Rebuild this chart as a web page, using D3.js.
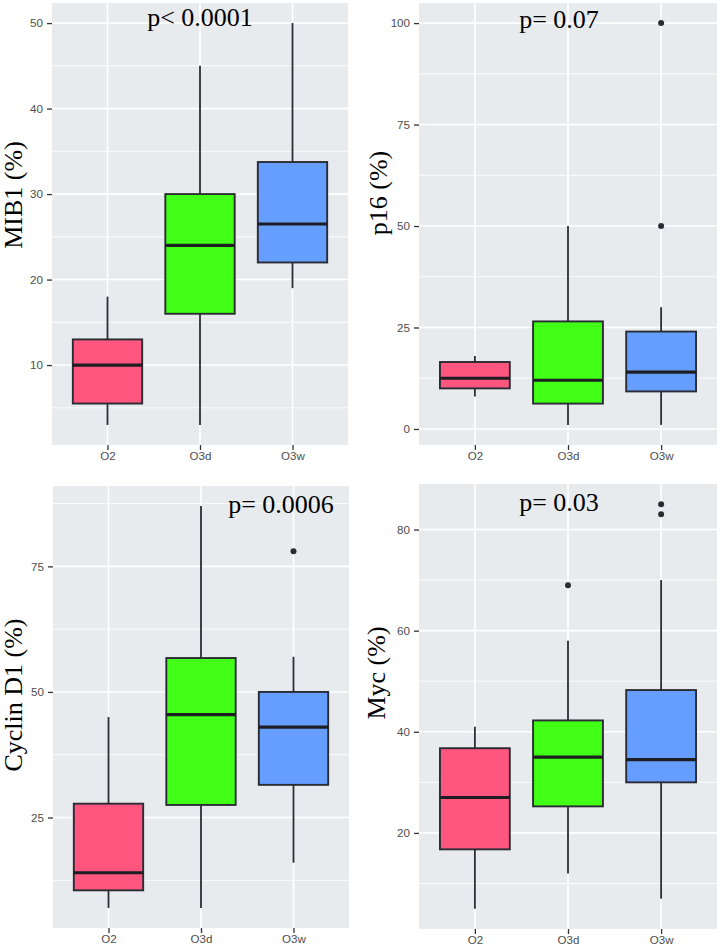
<!DOCTYPE html>
<html><head><meta charset="utf-8">
<script src="https://cdn.jsdelivr.net/npm/d3@7"></script>
<style>body{margin:0;background:#fff}svg{display:block}</style>
</head><body><svg id="c" width="720" height="949"></svg>
<script>
const categories = ["O2", "O3d", "O3w"];
// each row: [lower whisker, Q1, median, Q3, upper whisker]
const mib1Stats = [[3, 5.5, 10, 13, 18], [3, 16, 24, 30, 45], [19, 22, 26.5, 33.75, 50]];
const mib1Outliers = [[], [], []];
const p16Stats = [[8, 10, 12.5, 16.5, 18], [1, 6.25, 12, 26.5, 50], [1, 9.25, 14, 24, 30]];
const p16Outliers = [[], [], [50, 100]];
const cyclinStats = [[7, 10.5, 14, 27.75, 45], [7, 27.5, 45.5, 56.75, 87], [16, 31.5, 43, 50, 57]];
const cyclinOutliers = [[], [], [78]];
const mycStats = [[5, 16.75, 27, 36.75, 41], [12, 25.25, 35, 42.25, 58], [7, 30, 34.5, 48.25, 70]];
const mycOutliers = [[], [69], [83, 85]];
const mib1Ticks = [10, 20, 30, 40, 50];
const p16Ticks = [0, 25, 50, 75, 100];
const cyclinTicks = [25, 50, 75];
const mycTicks = [20, 40, 60, 80];
const yTitles = ["MIB1 (%)", "p16 (%)", "Cyclin D1 (%)", "Myc (%)"];
const pLabels = ["p< 0.0001", "p= 0.07", "p= 0.0006", "p= 0.03"];

const fills = ["#FF567F", "#41FF17", "#659EFF"];
const outline = "#2A2C33";
const bg = "#E8EBEE";

const panels = [
  {stats: mib1Stats, out: mib1Outliers, ticks: mib1Ticks, title: yTitles[0], p: pLabels[0],
   l: 52, r: 348, t: 3, b: 445, tx: 22, ty: 195, px: 200, py: 26},
  {stats: p16Stats, out: p16Outliers, ticks: p16Ticks, title: yTitles[1], p: pLabels[1],
   l: 419, r: 717, t: 3, b: 445, tx: 387, ty: 193, px: 559, py: 28},
  {stats: cyclinStats, out: cyclinOutliers, ticks: cyclinTicks, title: yTitles[2], p: pLabels[2],
   l: 53, r: 349, t: 486, b: 928, tx: 22, ty: 695, px: 281, py: 513},
  {stats: mycStats, out: mycOutliers, ticks: mycTicks, title: yTitles[3], p: pLabels[3],
   l: 419, r: 717, t: 484, b: 929, tx: 385, ty: 673, px: 559, py: 511}
];

const svg = d3.select("#c");

panels.forEach(P => {
  const g = svg.append("g");
  const allVals = P.stats.flat().concat(P.out.flat());
  const lo = d3.min(allVals), hi = d3.max(allVals), pad = (hi - lo) * 0.05;
  const y = d3.scaleLinear().domain([lo - pad, hi + pad]).range([P.b, P.t]);
  const x = d3.scalePoint().domain(categories).range([P.l, P.r]).padding(0.6);
  const bw = x.step() * 0.75;

  g.append("rect").attr("x", P.l).attr("y", P.t).attr("width", P.r - P.l).attr("height", P.b - P.t).attr("fill", bg);

  // minor gridlines
  const step = P.ticks[1] - P.ticks[0];
  const minor = [];
  for (let v = P.ticks[0] - step / 2; v <= y.domain()[1]; v += step) if (v >= y.domain()[0]) minor.push(v);
  g.selectAll(".mn").data(minor).join("line")
    .attr("x1", P.l).attr("x2", P.r).attr("y1", d => y(d)).attr("y2", d => y(d))
    .attr("stroke", "#fff").attr("stroke-width", 0.8);
  g.selectAll(".mjy").data(P.ticks).join("line")
    .attr("x1", P.l).attr("x2", P.r).attr("y1", d => y(d)).attr("y2", d => y(d))
    .attr("stroke", "#fff").attr("stroke-width", 1.6);
  g.selectAll(".mjx").data(categories).join("line")
    .attr("x1", d => x(d)).attr("x2", d => x(d)).attr("y1", P.t).attr("y2", P.b)
    .attr("stroke", "#fff").attr("stroke-width", 1.6);

  // boxes
  categories.forEach((c, i) => {
    const s = P.stats[i], cx = x(c);
    g.append("line").attr("x1", cx).attr("x2", cx).attr("y1", y(s[0])).attr("y2", y(s[1]))
      .attr("stroke", outline).attr("stroke-width", 1.8);
    g.append("line").attr("x1", cx).attr("x2", cx).attr("y1", y(s[3])).attr("y2", y(s[4]))
      .attr("stroke", outline).attr("stroke-width", 1.8);
    g.append("rect").attr("x", cx - bw / 2).attr("width", bw)
      .attr("y", y(s[3])).attr("height", y(s[1]) - y(s[3]))
      .attr("fill", fills[i]).attr("stroke", outline).attr("stroke-width", 1.9);
    g.append("line").attr("x1", cx - bw / 2).attr("x2", cx + bw / 2).attr("y1", y(s[2])).attr("y2", y(s[2]))
      .attr("stroke", "#1E1E22").attr("stroke-width", 3.2);
    g.selectAll(null).data(P.out[i]).join("circle")
      .attr("cx", cx).attr("cy", d => y(d)).attr("r", 3).attr("fill", outline);
  });

  // axes
  const ya = g.append("g").attr("transform", `translate(${P.l},0)`)
    .call(d3.axisLeft(y).tickValues(P.ticks).tickSize(5).tickPadding(4));
  const xa = g.append("g").attr("transform", `translate(0,${P.b})`)
    .call(d3.axisBottom(x).tickSize(5).tickPadding(2));
  [ya, xa].forEach(a => {
    a.select(".domain").remove();
    a.selectAll(".tick line").attr("stroke", "#333").attr("stroke-width", 1.3);
    a.selectAll(".tick text").attr("fill", "#4D4D4D")
      .style("font-family", "'Liberation Sans', Arial, sans-serif").style("font-size", "11.6px");
  });

  g.append("text").attr("transform", `translate(${P.tx},${P.ty}) rotate(-90)`)
    .attr("text-anchor", "middle").style("font-family", "'Liberation Serif', 'Times New Roman', serif")
    .style("font-size", "26px").attr("fill", "#000").text(P.title);
  g.append("text").attr("x", P.px).attr("y", P.py).attr("text-anchor", "middle")
    .style("font-family", "'Liberation Serif', 'Times New Roman', serif")
    .style("font-size", "26px").attr("fill", "#000").text(P.p);
});
</script></body></html>
